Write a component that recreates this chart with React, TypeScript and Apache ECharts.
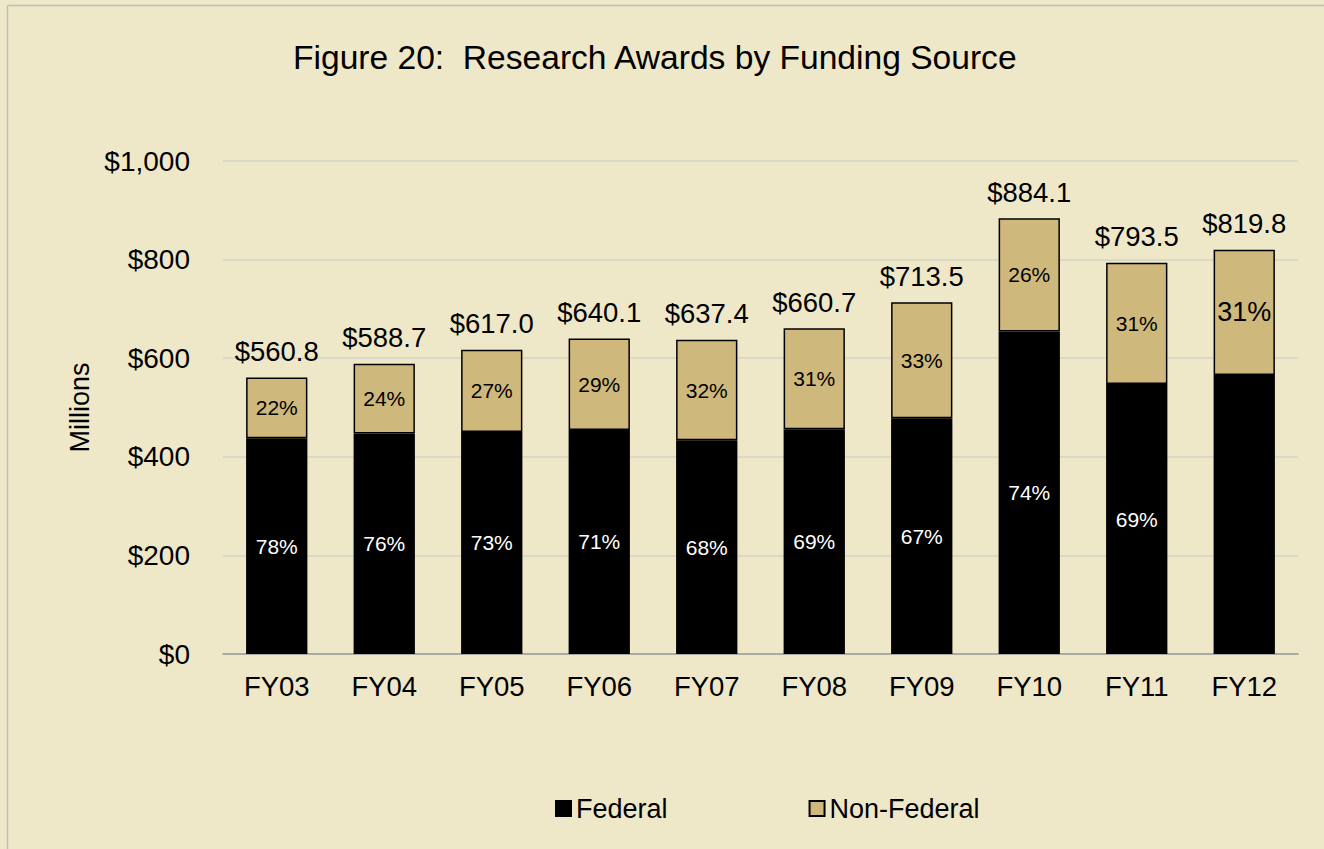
import React, { useEffect, useRef } from "react";
import * as echarts from "echarts";

const categories = ["FY03", "FY04", "FY05", "FY06", "FY07", "FY08", "FY09", "FY10", "FY11", "FY12"];
const totals = [560.8, 588.7, 617.0, 640.1, 637.4, 660.7, 713.5, 884.1, 793.5, 819.8];
const federal = [437.4, 447.4, 450.4, 454.5, 433.4, 455.9, 478.0, 654.2, 547.5, 565.7];
const nonFederal = [123.4, 141.3, 166.6, 185.6, 204.0, 204.8, 235.5, 229.9, 246.0, 254.1];
const federalPct = ["78%", "76%", "73%", "71%", "68%", "69%", "67%", "74%", "69%", ""];
const nonFederalPct = ["22%", "24%", "27%", "29%", "32%", "31%", "33%", "26%", "31%", "31%"];
const yTicks = [0, 200, 400, 600, 800, 1000];

const FONT = "'Liberation Sans', Arial, sans-serif";
const BG = "#EEE7C8";
const TAN = "#CFB87C";

export default function App() {
  const ref = useRef<HTMLDivElement>(null);
  useEffect(() => {
    if (!ref.current) return;
    const chart = echarts.init(ref.current, undefined, { renderer: "svg" });
    const option = {
      animation: false,
      backgroundColor: BG,
      textStyle: { fontFamily: FONT },
      title: {
        text: "Figure 20:  Research Awards by Funding Source",
        left: 288,
        top: 35,
        textStyle: { fontFamily: FONT, fontSize: 33.6, fontWeight: "normal", color: "#000" },
      },
      legend: {
        data: ["Federal", "Non-Federal"],
        left: 550,
        top: 790,
        itemWidth: 15,
        itemHeight: 15,
        itemGap: 141,
        icon: "rect",
        textStyle: { fontFamily: FONT, fontSize: 27, color: "#000" },
      },
      grid: { left: 223, right: 26, top: 161, bottom: 195, containLabel: false },
      xAxis: {
        type: "category",
        data: categories,
        axisLine: { show: true, lineStyle: { color: "#9A9A9A", width: 1.5 } },
        axisTick: { show: false },
        axisLabel: { fontFamily: FONT, fontSize: 27.5, color: "#000", margin: 18 },
      },
      yAxis: {
        type: "value",
        min: yTicks[0],
        max: yTicks[yTicks.length - 1],
        interval: 200,
        name: "Millions",
        nameLocation: "middle",
        nameGap: 129,
        nameTextStyle: { fontFamily: FONT, fontSize: 27, color: "#000" },
        axisLine: { show: false },
        axisTick: { show: false },
        splitLine: { lineStyle: { color: "#D2D4C6", width: 1.5 } },
        axisLabel: {
          fontFamily: FONT,
          fontSize: 28,
          color: "#000",
          margin: 33,
          formatter: (v: number) => "$" + v.toLocaleString("en-US"),
        },
      },
      series: [
        {
          name: "Federal",
          type: "bar",
          stack: "total",
          barWidth: "57%",
          data: federal,
          itemStyle: { color: "#000", borderColor: "#000", borderWidth: 1.5 },
          label: {
            show: true,
            position: "inside",
            color: "#fff",
            fontFamily: FONT,
            fontSize: 21,
            formatter: (p: any) => federalPct[p.dataIndex],
          },
        },
        {
          name: "Non-Federal",
          type: "bar",
          stack: "total",
          barWidth: "57%",
          data: nonFederal.map((v, i) =>
            i === nonFederal.length - 1 ? { value: v, label: { fontSize: 27 } } : v
          ),
          itemStyle: { color: TAN, borderColor: "#000", borderWidth: 1.5 },
          label: {
            show: true,
            position: "inside",
            color: "#000",
            fontFamily: FONT,
            fontSize: 21,
            formatter: (p: any) => nonFederalPct[p.dataIndex],
          },
        },
        {
          name: "Total",
          type: "bar",
          barWidth: "57%",
          barGap: "-100%",
          silent: true,
          data: totals,
          itemStyle: { color: "rgba(0,0,0,0)" },
          label: {
            show: true,
            position: "top",
            distance: 12,
            color: "#000",
            fontFamily: FONT,
            fontSize: 27.5,
            formatter: (p: any) => "$" + totals[p.dataIndex].toFixed(1),
          },
          z: 1,
        },
      ],
      graphic: [
        {
          type: "line",
          shape: { x1: 7.5, y1: 5.5, x2: 1324, y2: 5.5 },
          style: { stroke: "#BDBDBD", lineWidth: 1.3 },
        },
        {
          type: "line",
          shape: { x1: 7.5, y1: 5.5, x2: 7.5, y2: 849 },
          style: { stroke: "#BDBDBD", lineWidth: 1.3 },
        },
      ],
    };
    chart.setOption(option as any);
    return () => chart.dispose();
  }, []);
  return (
    <div
      ref={ref}
      style={{ position: "fixed", left: 0, top: 0, width: 1324, height: 849 }}
    />
  );
}
